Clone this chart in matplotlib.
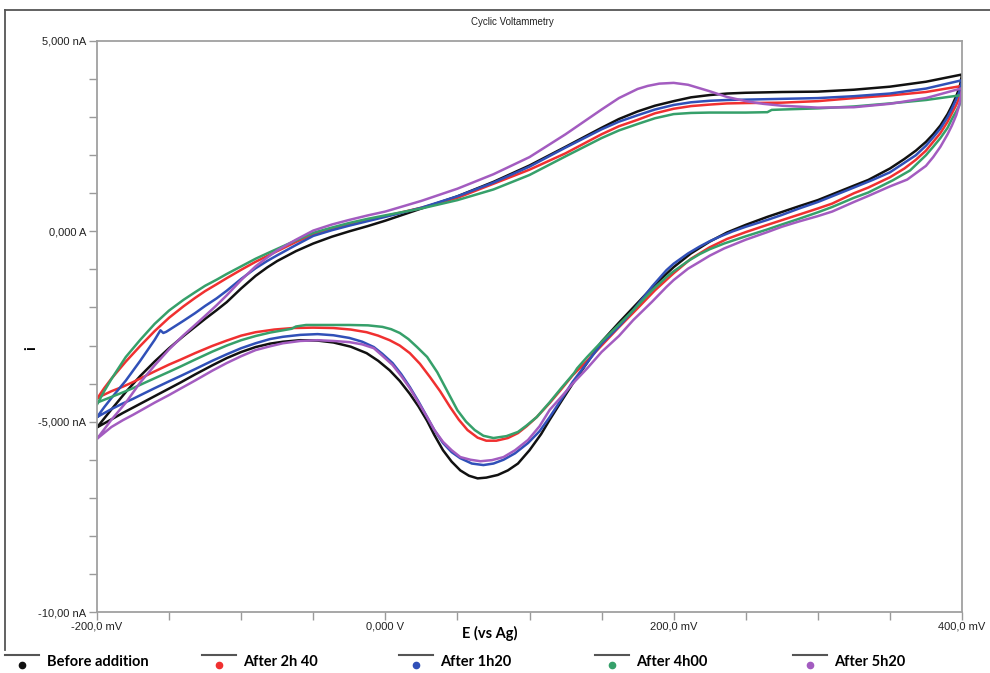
import numpy as np
import matplotlib
matplotlib.use("Agg")
import matplotlib.pyplot as plt
from matplotlib.lines import Line2D
from matplotlib.legend_handler import HandlerBase

# ---------------- data (E in mV, i in nA) ----------------
labels = ["Before addition", "After 2h 40", "After 1h20", "After 4h00", "After 5h20"]
colors = ["#111111", "#f03030", "#3050b8", "#36a06a", "#a35cc0"]

black_fwd_E = [-200, -190, -180, -170, -160, -150, -140, -132, -125, -117, -110, -100, -90, -82, -75, -62, -50, -37, -25, -12, 0, 25, 50, 75, 100, 125, 150, 162, 175, 187, 200, 212, 225, 237, 250, 275, 300, 325, 350, 375, 400]
black_fwd_I = [-5.15, -4.68, -4.22, -3.8, -3.42, -3.07, -2.75, -2.51, -2.3, -2.07, -1.86, -1.5, -1.17, -0.95, -0.78, -0.52, -0.32, -0.14, 0.0, 0.14, 0.28, 0.6, 0.92, 1.3, 1.73, 2.22, 2.72, 2.95, 3.15, 3.3, 3.42, 3.52, 3.58, 3.62, 3.64, 3.66, 3.67, 3.72, 3.8, 3.93, 4.12]
black_rev_E = [400, 399, 398, 396, 393, 390, 385, 380, 375, 368, 360, 350, 335, 325, 300, 287, 265, 250, 237, 225, 212, 200, 187, 175, 162, 150, 140, 130, 122, 114, 108, 100, 92, 85, 78, 70, 64, 58, 52, 46, 40, 34, 29, 23, 17, 10, 3, -5, -13, -24, -36, -47, -59, -71, -80, -90, -100, -110, -120, -132, -142, -150, -160, -167, -175, -182, -190, -200]
black_rev_I = [4.12, 3.9, 3.75, 3.55, 3.3, 3.08, 2.78, 2.55, 2.35, 2.12, 1.9, 1.65, 1.35, 1.2, 0.82, 0.66, 0.38, 0.17, -0.03, -0.27, -0.58, -0.94, -1.4, -1.88, -2.4, -2.9, -3.45, -4.0, -4.47, -4.95, -5.33, -5.75, -6.1, -6.28, -6.4, -6.47, -6.49, -6.42, -6.28, -6.05, -5.75, -5.35, -4.98, -4.6, -4.27, -3.93, -3.65, -3.4, -3.2, -3.03, -2.92, -2.87, -2.86, -2.9, -2.95, -3.04, -3.17, -3.33, -3.52, -3.76, -3.97, -4.13, -4.33, -4.47, -4.63, -4.77, -4.94, -5.15]

red_fwd_E = [-200, -195, -190, -180, -170, -160, -150, -140, -132, -125, -117, -110, -100, -90, -82, -75, -62, -50, -37, -25, -12, 0, 25, 50, 75, 100, 125, 150, 162, 175, 187, 200, 212, 225, 237, 250, 275, 300, 325, 350, 375, 400]
red_fwd_I = [-4.4, -4.12, -3.87, -3.42, -3.01, -2.62, -2.27, -1.97, -1.75, -1.57, -1.39, -1.23, -1.01, -0.8, -0.65, -0.52, -0.28, -0.08, 0.07, 0.18, 0.3, 0.4, 0.62, 0.88, 1.25, 1.62, 2.05, 2.55, 2.76, 2.93, 3.1, 3.22, 3.29, 3.33, 3.36, 3.37, 3.38, 3.42, 3.5, 3.57, 3.66, 3.82]
red_rev_E = [400, 399, 398, 396, 393, 390, 385, 380, 375, 368, 360, 350, 335, 325, 310, 300, 287, 265, 250, 237, 225, 212, 200, 187, 175, 162, 150, 140, 130, 122, 114, 105, 98, 92, 85, 77, 70, 64, 57, 51, 45, 38, 31, 24, 17, 10, 3, -5, -13, -24, -36, -50, -64, -77, -90, -100, -110, -120, -132, -142, -150, -160, -167, -175, -182, -190, -200]
red_rev_I = [3.82, 3.62, 3.5, 3.32, 3.1, 2.88, 2.58, 2.35, 2.12, 1.88, 1.65, 1.42, 1.15, 1.0, 0.73, 0.6, 0.44, 0.17, -0.02, -0.2, -0.42, -0.72, -1.1, -1.55, -2.02, -2.52, -3.0, -3.4, -3.78, -4.15, -4.51, -4.88, -5.12, -5.3, -5.43, -5.5, -5.5, -5.42, -5.22, -4.95, -4.62, -4.2, -3.83, -3.48, -3.2, -3.0, -2.86, -2.74, -2.65, -2.58, -2.54, -2.53, -2.54, -2.58, -2.65, -2.74, -2.87, -3.01, -3.2, -3.37, -3.5, -3.68, -3.81, -3.96, -4.08, -4.2, -4.38]

blue_fwd_E = [-200, -195, -190, -180, -170, -160, -156, -154, -152, -140, -132, -125, -117, -110, -100, -90, -82, -75, -62, -50, -37, -25, -12, 0, 25, 50, 75, 100, 125, 150, 162, 175, 187, 200, 212, 225, 237, 250, 275, 300, 325, 350, 375, 400]
blue_fwd_I = [-4.88, -4.62, -4.38, -3.92, -3.4, -2.85, -2.6, -2.67, -2.64, -2.35, -2.15, -1.96, -1.76, -1.56, -1.25, -0.97, -0.78, -0.63, -0.36, -0.12, 0.03, 0.15, 0.27, 0.38, 0.62, 0.92, 1.28, 1.7, 2.2, 2.68, 2.88, 3.05, 3.2, 3.32, 3.39, 3.43, 3.45, 3.46, 3.48, 3.5, 3.55, 3.62, 3.75, 3.97]
blue_rev_E = [400, 399, 398, 396, 393, 390, 385, 380, 375, 368, 360, 350, 338, 325, 300, 287, 275, 265, 250, 241, 232, 225, 218, 210, 200, 195, 185, 172, 162, 150, 140, 130, 122, 114, 107, 99, 90, 82, 75, 68, 60, 52, 46, 40, 34, 29, 23, 17, 11, 5, -2, -8, -16, -25, -36, -47, -59, -71, -80, -90, -100, -110, -120, -132, -142, -150, -160, -167, -175, -182, -190, -200]
blue_rev_I = [3.97, 3.78, 3.65, 3.47, 3.22, 3.0, 2.7, 2.47, 2.25, 2.0, 1.8, 1.55, 1.35, 1.15, 0.77, 0.6, 0.43, 0.3, 0.12, 0.0, -0.14, -0.26, -0.4, -0.58, -0.85, -1.02, -1.45, -2.07, -2.5, -2.95, -3.45, -3.95, -4.42, -4.88, -5.25, -5.56, -5.83, -6.0, -6.1, -6.14, -6.1, -5.96, -5.8, -5.56, -5.22, -4.88, -4.47, -4.09, -3.75, -3.46, -3.22, -3.04, -2.9, -2.8, -2.73, -2.7, -2.72, -2.77, -2.83, -2.94, -3.07, -3.23, -3.4, -3.62, -3.8, -3.94, -4.12, -4.25, -4.4, -4.52, -4.67, -4.88]

green_fwd_E = [-200, -195, -190, -180, -170, -160, -150, -140, -132, -125, -117, -110, -100, -90, -82, -75, -62, -50, -37, -25, -12, 0, 25, 50, 75, 100, 125, 150, 162, 175, 187, 200, 212, 225, 250, 265, 268, 275, 300, 325, 350, 375, 400]
green_fwd_I = [-4.55, -4.2, -3.88, -3.3, -2.85, -2.43, -2.08, -1.8, -1.6, -1.43, -1.27, -1.12, -0.92, -0.72, -0.58, -0.46, -0.24, -0.04, 0.1, 0.22, 0.33, 0.42, 0.6, 0.82, 1.1, 1.48, 1.97, 2.45, 2.65, 2.82, 2.97, 3.08, 3.11, 3.12, 3.12, 3.13, 3.19, 3.2, 3.23, 3.28, 3.36, 3.45, 3.58]
green_rev_E = [400, 399, 398, 396, 393, 390, 385, 380, 375, 364, 352, 335, 325, 310, 300, 287, 275, 265, 250, 235, 225, 218, 210, 200, 195, 185, 172, 162, 150, 140, 133, 131, 122, 114, 105, 98, 92, 84, 75, 68, 62, 56, 50, 43, 36, 29, 22, 16, 10, 4, -2, -12, -25, -40, -55, -62, -65, -71, -80, -90, -100, -110, -120, -132, -142, -150, -160, -167, -175, -182, -190, -200]
green_rev_I = [3.58, 3.42, 3.3, 3.15, 2.95, 2.72, 2.45, 2.22, 2.0, 1.6, 1.34, 1.02, 0.88, 0.64, 0.5, 0.33, 0.18, 0.05, -0.13, -0.32, -0.47, -0.6, -0.78, -1.05, -1.2, -1.55, -2.07, -2.45, -2.9, -3.3, -3.6, -3.72, -4.12, -4.49, -4.88, -5.1, -5.27, -5.38, -5.43, -5.37, -5.22, -5.0, -4.7, -4.2, -3.7, -3.3, -3.04, -2.83, -2.67, -2.57, -2.51, -2.47, -2.46, -2.46, -2.46, -2.5, -2.56, -2.6, -2.66, -2.75, -2.86, -3.0, -3.16, -3.37, -3.55, -3.69, -3.86, -3.98, -4.12, -4.23, -4.35, -4.5]

purple_fwd_E = [-200, -195, -190, -180, -170, -160, -150, -140, -132, -125, -117, -110, -100, -90, -82, -75, -62, -50, -37, -25, -12, 0, 25, 50, 75, 100, 125, 150, 162, 175, 182, 190, 200, 210, 225, 237, 250, 262, 275, 300, 325, 350, 375, 400]
purple_fwd_I = [-5.45, -5.2, -4.95, -4.5, -3.97, -3.52, -3.1, -2.73, -2.46, -2.22, -1.94, -1.68, -1.28, -0.92, -0.69, -0.5, -0.22, 0.02, 0.18, 0.3, 0.42, 0.52, 0.8, 1.12, 1.5, 1.95, 2.55, 3.2, 3.5, 3.74, 3.82, 3.88, 3.9, 3.85, 3.68, 3.53, 3.42, 3.35, 3.3, 3.25, 3.26, 3.35, 3.5, 3.76]
purple_rev_E = [400, 399, 398, 396, 393, 390, 385, 380, 375, 362, 350, 335, 325, 310, 300, 287, 275, 265, 250, 235, 225, 218, 210, 200, 195, 185, 172, 162, 150, 140, 130, 122, 114, 107, 99, 90, 82, 74, 66, 59, 52, 46, 40, 34, 29, 23, 17, 11, 5, -2, -8, -16, -25, -36, -47, -59, -71, -80, -90, -100, -110, -120, -132, -142, -150, -160, -167, -175, -182, -190, -200]
purple_rev_I = [3.76, 3.5, 3.3, 3.05, 2.78, 2.55, 2.22, 1.95, 1.72, 1.36, 1.18, 0.93, 0.77, 0.52, 0.4, 0.26, 0.12, -0.02, -0.22, -0.45, -0.64, -0.8, -0.98, -1.28, -1.46, -1.85, -2.33, -2.75, -3.17, -3.6, -4.0, -4.35, -4.69, -5.12, -5.48, -5.75, -5.93, -6.01, -6.04, -6.0, -5.93, -5.75, -5.53, -5.22, -4.88, -4.5, -4.12, -3.8, -3.51, -3.27, -3.07, -2.97, -2.91, -2.88, -2.86, -2.88, -2.94, -3.02, -3.12, -3.28, -3.46, -3.66, -3.92, -4.13, -4.3, -4.5, -4.65, -4.82, -4.96, -5.14, -5.45]

x_ticks = [-200, 0, 200, 400]
x_tick_labels = ["-200,0 mV", "0,000 V", "200,0 mV", "400,0 mV"]
y_ticks = [-10, -5, 0, 5]
y_tick_labels = ["-10,00 nA", "-5,000 nA", "0,000 A", "5,000 nA"]

series = [
    (black_fwd_E, black_fwd_I, black_rev_E, black_rev_I),
    (red_fwd_E, red_fwd_I, red_rev_E, red_rev_I),
    (blue_fwd_E, blue_fwd_I, blue_rev_E, blue_rev_I),
    (green_fwd_E, green_fwd_I, green_rev_E, green_rev_I),
    (purple_fwd_E, purple_fwd_I, purple_rev_E, purple_rev_I),
]

# ---------------- figure ----------------
W, H = 990, 673
fig = plt.figure(figsize=(W / 100, H / 100), dpi=100)
fig.patch.set_facecolor("white")
ax = fig.add_axes([97 / W, 1 - 612 / H, 865 / W, 571 / H])

for (fe, fi, re_, ri), c in zip(series, colors):
    E = list(fe) + list(re_)
    I = list(fi) + list(ri)
    ax.plot(E, I, color=c, lw=1.8, solid_joinstyle="round", solid_capstyle="round")

ax.set_xlim(-200, 400)
ax.set_ylim(-10, 5)
ax.set_xticks(x_ticks)
ax.set_xticklabels(x_tick_labels)
ax.set_xticks(np.arange(-200, 401, 50), minor=True)
ax.set_yticks(y_ticks)
ax.set_yticklabels(y_tick_labels)
ax.set_yticks(np.arange(-10, 5.01, 1), minor=True)

for lab in ax.get_xticklabels() + ax.get_yticklabels():
    lab.set_fontfamily("Liberation Sans")
    lab.set_fontsize(8)
    lab.set_color("#222222")
ax.tick_params(which="both", direction="out", length=6, width=1, color="#9a9a9a")
ax.tick_params(axis="y", pad=2)
ax.tick_params(axis="x", pad=1)
for s in ax.spines.values():
    s.set_color("#a0a0a0")
    s.set_linewidth(1.3)

ax.set_xlabel("E (vs Ag)", fontfamily="Lato", fontweight="bold", fontsize=10.5)
ax.xaxis.set_label_coords((490 - 97) / 865, (612 - 633) / 571)
ax.xaxis.label.set_va("center")
ax.set_ylabel("i", fontfamily="Lato", fontweight="bold", fontsize=10.5, rotation=90)
ax.yaxis.set_label_coords((31 - 97) / 865, (612 - 348) / 571)
ax.yaxis.label.set_va("center")

fig.text(512 / W, 1 - 22 / H, "Cyclic Voltammetry", ha="center", va="center",
         fontfamily="Liberation Sans", fontsize=7, color="#222222")

# outer frame (top and left edges)
fig.add_artist(Line2D([5 / W, 1.0], [1 - 10 / H, 1 - 10 / H], transform=fig.transFigure,
                      color="#555555", lw=1.3))
fig.add_artist(Line2D([5 / W, 5 / W], [1 - 10 / H, 1 - 650 / H], transform=fig.transFigure,
                      color="#555555", lw=1.3))


class LineDotHandler(HandlerBase):
    def create_artists(self, legend, orig_handle, xdescent, ydescent, width, height,
                       fontsize, trans):
        ln = Line2D([-xdescent, -xdescent + width], [height * 1.05] * 2, color="#555555",
                    lw=1.5, transform=trans)
        dot = Line2D([-xdescent + width / 2], [height * 0.05], marker="o", ms=4.5,
                     color=orig_handle.get_color(), ls="none", transform=trans)
        return [ln, dot]


legend_x = [5, 202, 399, 595, 793]
for lab, c, xp in zip(labels, colors, legend_x):
    h = Line2D([], [], color=c)
    fig.legend(handles=[h], labels=[lab], loc="center left",
               bbox_to_anchor=(xp / W, 1 - 662 / H), frameon=False, borderpad=0,
               borderaxespad=0, handlelength=2.3, handletextpad=0.55,
               handler_map={Line2D: LineDotHandler()},
               prop=dict(family="Lato", weight="bold", size=10.5))

fig.savefig("out.png", dpi=100, facecolor="white")
